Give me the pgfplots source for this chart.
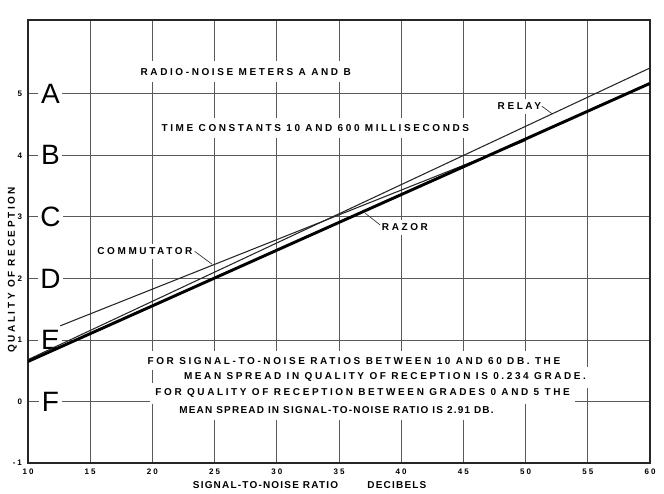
\documentclass[border=0pt]{standalone}
\usepackage{pgfplots}
\pgfplotsset{compat=1.18}
\usepackage{fontspec}
\setmainfont{Liberation Sans}
\newfontfamily\lett[LetterSpace=26]{Liberation Sans}
\newfontfamily\lettn[LetterSpace=12]{Liberation Sans}
\newcommand{\smtxt}{\lett\bfseries\fontsize{7.5}{8.5}\selectfont}
\newcommand{\smtxtn}{\lettn\bfseries\fontsize{7.5}{8.5}\selectfont}
\newcommand{\bigletter}{\fontsize{21}{21}\selectfont}
\definecolor{gridc}{gray}{0.35}
\tikzset{lettnode/.style={fill=white, font=\bigletter, inner xsep=2pt, inner ysep=0pt}}
\begin{document}
\begin{tikzpicture}
\begin{axis}[
  name=ax,
  scale only axis,
  width=466.5pt, height=332.25pt,
  xmin=10, xmax=60, ymin=-1, ymax=6.2,
  xtick={10,15,...,60}, ytick={-1,0,...,5},
  grid=major,
  major grid style={draw=gridc, line width=0.6pt},
  axis line style={line width=1.3pt, black!85},
  major tick length=0pt,
  /pgf/number format/assume math mode=true,
  tick label style={font=\lett\bfseries\fontsize{6}{6}\selectfont},
  xticklabel style={yshift=-1pt},
  yticklabel style={xshift=-1pt},
  xlabel={SIGNAL-TO-NOISE RATIO\hspace*{22pt}DECIBELS},
  xlabel style={font=\smtxtn, xshift=-22pt, yshift=1.5pt},
  ylabel={QUALITY OF RECEPTION},
  ylabel style={font=\smtxt, at={(ticklabel cs:0.436)}, yshift=-10pt},
]
% labels with white background to break grid
\node[fill=white, font=\smtxt, inner sep=5pt] at (axis cs:27.5,5.36) {RADIO-NOISE METERS A AND B};
\node[fill=white, font=\smtxt, inner sep=5pt] at (axis cs:33.1,4.44) {TIME CONSTANTS 10 AND 600 MILLISECONDS};
\node[fill=white, font=\smtxt, inner xsep=4pt, inner ysep=4.5pt] at (axis cs:36.2,0.66) {FOR SIGNAL-TO-NOISE RATIOS BETWEEN 10 AND 60 DB. THE};
\node[fill=white, font=\smtxt, inner xsep=4pt, inner ysep=4.5pt] at (axis cs:38.7,0.39) {MEAN SPREAD IN QUALITY OF RECEPTION IS 0.234 GRADE.};
\node[fill=white, font=\smtxt, inner xsep=4pt, inner ysep=4.5pt] at (axis cs:36.9,0.13) {FOR QUALITY OF RECEPTION BETWEEN GRADES 0 AND 5 THE};
\node[fill=white, font=\smtxtn, inner xsep=4pt, inner ysep=4.5pt] at (axis cs:34.8,-0.14) {MEAN SPREAD IN SIGNAL-TO-NOISE RATIO IS 2.91 DB.};
\node[fill=white, font=\smtxt, inner sep=3pt] at (axis cs:19.4,2.44) {COMMUTATOR};
\node[fill=white, font=\smtxt, inner sep=3pt] at (axis cs:40.3,2.83) {RAZOR};
\node[fill=white, font=\smtxt, inner sep=3pt] at (axis cs:49.5,4.80) {RELAY};
\node[lettnode] at (axis cs:11.8,5) {A};
\node[lettnode] at (axis cs:11.8,4) {B};
\node[lettnode] at (axis cs:11.8,3) {C};
\node[lettnode] at (axis cs:11.8,2) {D};
\node[lettnode] at (axis cs:11.8,1) {E};
\node[lettnode] at (axis cs:11.8,0) {F};
% leaders
\draw[black!80, line width=0.5pt] (axis cs:23.4,2.44) -- (axis cs:24.8,2.23);
\draw[black!80, line width=0.5pt] (axis cs:38.3,2.87) -- (axis cs:37.1,3.06);
\draw[black!80, line width=0.5pt] (axis cs:51.3,4.80) -- (axis cs:52.1,4.68);
% data
\addplot[black!85, line width=0.8pt] coordinates {(10,0.68) (60,5.42)}; % relay
\addplot[black!85, line width=0.8pt] coordinates {(12.6,1.23) (50,4.24)}; % commutator
\addplot[black, line width=2.2pt] coordinates {(10,0.65) (60,5.17)}; % razor
\end{axis}
\pgfresetboundingbox
\useasboundingbox ([shift={(-21pt,-23.25pt)}]ax.south west) rectangle ([shift={(10.5pt,15pt)}]ax.north east);
\end{tikzpicture}
\end{document}
